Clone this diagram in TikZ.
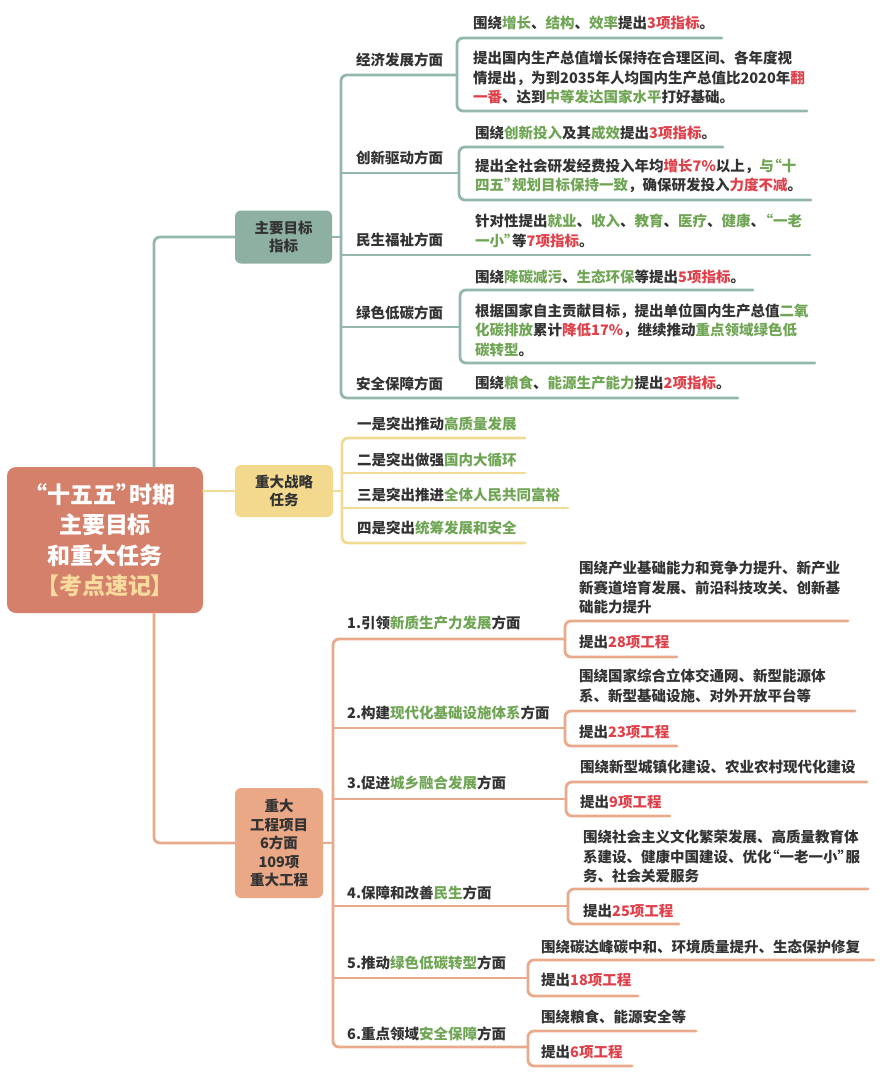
\documentclass[tikz,border=0pt]{standalone}
\usepackage{fontspec}
\newfontfamily\cjk{Noto Sans CJK SC}
\definecolor{tealL}{HTML}{93B8AA}
\definecolor{tealF}{HTML}{8DB0A2}
\definecolor{yelL}{HTML}{F1DB94}
\definecolor{yelF}{HTML}{F2D98E}
\definecolor{orL}{HTML}{E9AA8C}
\definecolor{orF}{HTML}{EBA887}
\definecolor{rootF}{HTML}{D4806B}
\definecolor{rootY}{HTML}{FADB9E}
\definecolor{kwgreen}{HTML}{6FA554}
\definecolor{kwred}{HTML}{E0404A}
\definecolor{darktext}{HTML}{333333}
\newcommand\kwg[1]{\textcolor{kwgreen}{#1}}
\newcommand\kwr[1]{\textcolor{kwred}{#1}}
\newcommand\oq{\kern-0.45em“}
\newcommand\cq{”\kern-0.45em}
\begin{document}
\begin{tikzpicture}[x=1pt,y=-1pt,
  txt/.style={anchor=west, inner sep=0pt, align=left, text=darktext,
    font=\cjk\bfseries\fontsize{14.5}{19.5}\selectfont},
  box/.style={rounded corners=6pt, inner sep=0pt, align=center, text=darktext,
    font=\cjk\bfseries\fontsize{14.5}{18.5}\selectfont},
  tl/.style={draw=tealL, line width=2.8pt, rounded corners=6pt, line cap=round},
  yl/.style={draw=yelL, line width=2.8pt, rounded corners=6pt, line cap=round},
  ol/.style={draw=orL, line width=2.8pt, rounded corners=6pt, line cap=round}
]
\useasboundingbox (0,0) rectangle (887,1080);
\fill[white] (0,0) rectangle (887,1080);

% ---------- main nodes ----------
\node[box, fill=rootF, text=white, rounded corners=9pt, minimum width=196pt, minimum height=146pt,
  font=\cjk\bfseries\fontsize{23}{30.5}\selectfont] (root) at (105,540)
  {\oq 十五五\cq 时期\\主要目标\\和重大任务\\\textcolor{rootY}{【考点速记】}};
\node[box, fill=tealF, minimum width=97pt, minimum height=53pt] (goals) at (283.5,237) {主要目标\\指标};
\node[box, fill=yelF, minimum width=98pt, minimum height=52pt] (tasks) at (284,491) {重大战略\\任务};
\node[box, fill=orF, minimum width=88pt, minimum height=110pt] (proj) at (279,843)
  {重大\\工程项目\\6方面\\109项\\重大工程};

\coordinate (trunk) at (154,0);

% ---------- root connectors ----------
\draw[tl] (root.north -| trunk) |- (goals.west);
\draw[ol] (root.south -| trunk) |- (proj.west);
\draw[yl] (tasks.west -| root.east) -- (tasks.west);

% ---------- teal branch ----------
\draw[tl] (goals.east) -- (341,237);
\draw[tl] (457,75) -| (341,398) -- (738,398);
\draw[tl] (341,173) -- (459,173);
\draw[tl] (341,255) -- (810,255);
\draw[tl] (341,327) -- (460,327);
\draw[tl] (722,38) -| (457,111) -- (807,111);
\draw[tl] (723,147) -| (459,200) -- (811,200);
\draw[tl] (753,290) -| (460,363) -- (815,363);

\node[txt] (e) at (356,60) {经济发展方面};
\node[txt] (c) at (356,158) {创新驱动方面};
\node[txt] (m) at (356,240) {民生福祉方面};
\node[txt] (l) at (356,313) {绿色低碳方面};
\node[txt] (s) at (356,384) {安全保障方面};

\node[txt] (e1) at (473,23) {围绕\kwg{增长}、\kwg{结构}、\kwg{效率}提出\kwr{3项指标}。};
\node[txt] (e2) at (473,77.5) {提出国内生产总值增长保持在合理区间、各年度视\\情提出，为到2035年人均国内生产总值比2020年\kwr{翻}\\\kwr{一番}、达到\kwg{中等发达国家水平}打好基础。};
\node[txt] (c1) at (475,133) {围绕\kwg{创新投入}及其\kwg{成效}提出\kwr{3项指标}。};
\node[txt] (c2) at (475,176) {提出全社会研发经费投入年均\kwr{增长7\%}以上，\kwg{与\oq 十}\\\kwg{四五\cq 规划目标保持一致}，确保研发投入\kwr{力度不减}。};
\node[txt] (m1) at (475,231) {针对性提出\kwg{就业}、\kwg{收入}、\kwg{教育}、\kwg{医疗}、\kwg{健康}、\kwg{\oq 一老}\\\kwg{一小\cq}等\kwr{7项指标}。};
\node[txt] (l1) at (475,277) {围绕\kwg{降碳减污}、\kwg{生态环保}等提出\kwr{5项指标}。};
\node[txt] (l2) at (475,330) {根据国家自主贡献目标，提出单位国内生产总值\kwg{二氧}\\\kwg{化碳排放}累计\kwr{降低17\%}，继续推动\kwg{重点领域绿色低}\\\kwg{碳转型}。};
\node[txt] (s1) at (475,383) {围绕\kwg{粮食}、\kwg{能源生产能力}提出\kwr{2项指标}。};

% ---------- yellow branch ----------
\draw[yl] (tasks.east) -- (342,491);
\draw[yl] (525,438) -| (342,543) -- (525,543);
\draw[yl] (342,473) -- (525,473);
\draw[yl] (342,508) -- (568,508);
\node[txt] (t1) at (357,424) {一是突出推动\kwg{高质量发展}};
\node[txt] (t2) at (357,460) {二是突出做强\kwg{国内大循环}};
\node[txt] (t3) at (357,495) {三是突出推进\kwg{全体人民共同富裕}};
\node[txt] (t4) at (357,528) {四是突出\kwg{统筹发展和安全}};

% ---------- orange branch ----------
\draw[ol] (proj.east) -- (333,843);
\draw[ol] (565,639) -| (333,1047) -- (528,1047);
\draw[ol] (333,728) -- (565,728);
\draw[ol] (333,799) -- (566,799);
\draw[ol] (333,906) -- (568,906);
\draw[ol] (333,978) -- (528,978);

\draw[ol] (848,621) -| (565,657) -- (677,657);
\draw[ol] (855,711) -| (565,746) -- (677,746);
\draw[ol] (867,782) -| (566,816) -- (670,816);
\draw[ol] (868,889) -| (568,924) -- (679,924);
\draw[ol] (874,960) -| (528,996) -- (638,996);
\draw[ol] (696,1031) -| (528,1066) -- (632,1066);

\node[txt] (p1) at (347,623) {1.引领\kwg{新质生产力发展}方面};
\node[txt] (p2) at (347,713) {2.构建\kwg{现代化基础设施体系}方面};
\node[txt] (p3) at (347,783) {3.促进\kwg{城乡融合发展}方面};
\node[txt] (p4) at (347,893) {4.保障和改善\kwg{民生}方面};
\node[txt] (p5) at (347,963) {5.推动\kwg{绿色低碳转型}方面};
\node[txt] (p6) at (347,1034) {6.重点领域\kwg{安全保障}方面};

\node[txt] (p1a) at (579,587.5) {围绕产业基础能力和竞争力提升、新产业\\新赛道培育发展、前沿科技攻关、创新基\\础能力提升};
\node[txt] (p1b) at (579,642) {提出\kwr{28项工程}};
\node[txt] (p2a) at (579,686) {围绕国家综合立体交通网、新型能源体\\系、新型基础设施、对外开放平台等};
\node[txt] (p2b) at (579,732) {提出\kwr{23项工程}};
\node[txt] (p3a) at (580,767) {围绕新型城镇化建设、农业农村现代化建设};
\node[txt] (p3b) at (580,802) {提出\kwr{9项工程}};
\node[txt] (p4a) at (583,856.5) {围绕社会主义文化繁荣发展、高质量教育体\\系建设、健康中国建设、优化\oq 一老一小\cq 服\\务、社会关爱服务};
\node[txt] (p4b) at (583,911) {提出\kwr{25项工程}};
\node[txt] (p5a) at (541,947) {围绕碳达峰碳中和、环境质量提升、生态保护修复};
\node[txt] (p5b) at (541,980) {提出\kwr{18项工程}};
\node[txt] (p6a) at (541,1017) {围绕粮食、能源安全等};
\node[txt] (p6b) at (541,1052) {提出\kwr{6项工程}};
\end{tikzpicture}
\end{document}
